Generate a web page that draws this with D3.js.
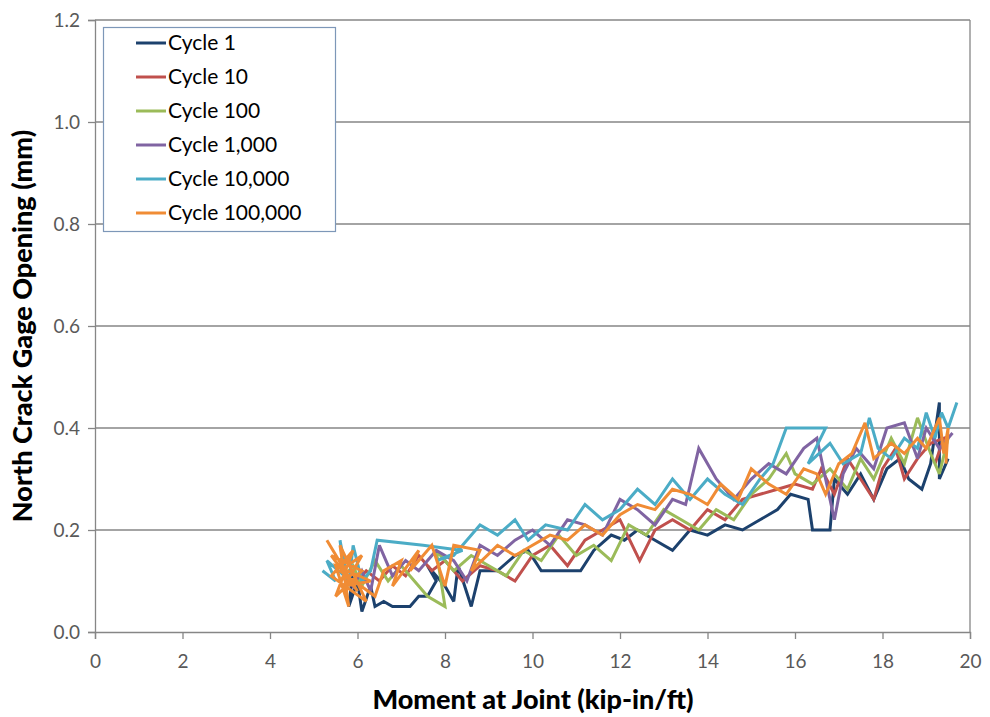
<!DOCTYPE html>
<html><head><meta charset="utf-8">
<script src="https://cdn.jsdelivr.net/npm/d3@7"></script>
<style>body{margin:0;background:#fff}svg{display:block}</style>
</head><body><svg id="c" width="990" height="717"></svg>
<script>
const seriesNames = ["Cycle 1","Cycle 10","Cycle 100","Cycle 1,000","Cycle 10,000","Cycle 100,000"];
const seriesColors = ["#1c416d","#c0504d","#9bbb59","#8064a2","#4bacc6","#f08c35"];
const xTicks = [0,2,4,6,8,10,12,14,16,18,20];
const yTicks = [0,0.2,0.4,0.6,0.8,1.0,1.2];

const cycle1 = [[5.7,0.08],[5.9,0.12],[5.8,0.05],[6.0,0.10],[6.1,0.04],[6.3,0.09],[6.4,0.05],[6.6,0.06],[6.8,0.05],[7.2,0.05],[7.4,0.07],[7.6,0.07],[7.8,0.10],[7.6,0.13],[8.0,0.09],[8.2,0.06],[8.3,0.13],[8.6,0.05],[8.8,0.12],[9.2,0.12],[9.6,0.15],[9.9,0.16],[10.2,0.12],[10.6,0.12],[11.1,0.12],[11.4,0.16],[11.8,0.19],[12.1,0.18],[12.4,0.20],[12.8,0.18],[13.2,0.16],[13.6,0.20],[14.0,0.19],[14.4,0.21],[14.8,0.20],[15.2,0.22],[15.6,0.24],[15.9,0.27],[16.3,0.26],[16.4,0.20],[16.8,0.20],[16.9,0.30],[17.2,0.27],[17.5,0.31],[17.8,0.26],[18.1,0.32],[18.4,0.34],[18.6,0.30],[18.9,0.28],[19.1,0.33],[19.3,0.45],[19.3,0.30],[19.5,0.34]];
const cycle10 = [[5.6,0.12],[5.9,0.09],[6.2,0.12],[6.5,0.10],[6.8,0.13],[7.1,0.11],[7.4,0.15],[7.7,0.12],[8.0,0.14],[8.4,0.10],[8.8,0.13],[9.2,0.12],[9.6,0.10],[10.0,0.15],[10.4,0.17],[10.8,0.13],[11.2,0.18],[11.6,0.20],[12.0,0.22],[12.45,0.14],[12.8,0.20],[13.2,0.22],[13.6,0.20],[14.0,0.24],[14.4,0.22],[14.8,0.26],[15.2,0.27],[15.6,0.28],[16.0,0.29],[16.4,0.28],[16.6,0.32],[16.9,0.27],[17.2,0.34],[17.5,0.30],[17.8,0.26],[18.0,0.32],[18.3,0.36],[18.5,0.30],[18.8,0.34],[19.1,0.37],[19.4,0.38],[19.2,0.33]];
const cycle100 = [[5.6,0.10],[5.9,0.13],[6.1,0.09],[6.4,0.14],[6.7,0.10],[7.0,0.13],[7.3,0.10],[7.6,0.07],[8.0,0.05],[7.8,0.16],[8.2,0.12],[8.6,0.15],[9.0,0.13],[9.4,0.11],[9.8,0.16],[10.2,0.14],[10.6,0.19],[11.0,0.15],[11.4,0.17],[11.8,0.14],[12.2,0.21],[12.6,0.19],[13.0,0.24],[13.4,0.22],[13.8,0.20],[14.2,0.24],[14.6,0.22],[15.0,0.27],[15.4,0.30],[15.8,0.35],[16.0,0.31],[16.4,0.29],[16.8,0.32],[17.2,0.28],[17.5,0.34],[17.8,0.30],[18.2,0.38],[18.5,0.33],[18.8,0.42],[19.1,0.35],[19.3,0.31],[19.5,0.38]];
const cycle1000 = [[5.6,0.13],[5.9,0.09],[6.1,0.12],[6.3,0.08],[6.5,0.17],[6.8,0.11],[7.1,0.14],[7.4,0.12],[7.8,0.16],[8.2,0.14],[8.5,0.10],[8.8,0.17],[9.2,0.15],[9.6,0.18],[10.0,0.20],[10.4,0.17],[10.8,0.22],[11.2,0.21],[11.6,0.19],[12.0,0.26],[12.4,0.24],[12.8,0.21],[13.2,0.26],[13.5,0.25],[13.8,0.36],[14.2,0.30],[14.6,0.26],[15.0,0.30],[15.4,0.33],[15.8,0.31],[16.2,0.36],[16.5,0.38],[16.8,0.26],[16.9,0.22],[17.1,0.31],[17.4,0.36],[17.8,0.32],[18.1,0.40],[18.5,0.41],[18.8,0.34],[19.0,0.40],[19.3,0.36],[19.6,0.39]];
const cycle10000 = [[5.2,0.12],[5.5,0.10],[5.3,0.14],[5.7,0.11],[5.6,0.18],[5.8,0.09],[5.9,0.17],[6.1,0.10],[6.3,0.12],[6.45,0.18],[7.5,0.17],[8.4,0.16],[7.8,0.14],[8.2,0.15],[8.8,0.21],[9.2,0.19],[9.6,0.22],[9.9,0.18],[10.3,0.21],[10.8,0.20],[11.2,0.25],[11.6,0.22],[12.0,0.24],[12.4,0.28],[12.8,0.25],[13.2,0.30],[13.6,0.26],[14.0,0.30],[14.4,0.27],[14.8,0.25],[15.2,0.30],[15.5,0.33],[15.8,0.40],[16.7,0.40],[16.3,0.33],[16.8,0.37],[17.1,0.33],[17.5,0.35],[17.7,0.42],[17.9,0.36],[18.2,0.34],[18.5,0.38],[18.8,0.36],[19.0,0.43],[19.2,0.38],[19.35,0.43],[19.5,0.40],[19.7,0.45]];
const cycle100000 = [[5.3,0.18],[6.0,0.08],[5.4,0.15],[6.1,0.12],[5.5,0.07],[5.9,0.16],[5.4,0.11],[6.2,0.06],[5.6,0.17],[5.8,0.05],[5.5,0.13],[6.3,0.10],[5.7,0.09],[6.1,0.15],[5.6,0.12],[6.4,0.07],[6.6,0.12],[7.0,0.14],[6.8,0.09],[7.4,0.16],[7.2,0.12],[7.7,0.17],[8.0,0.09],[8.2,0.17],[8.8,0.16],[8.6,0.12],[9.2,0.17],[9.6,0.15],[10.0,0.17],[10.4,0.19],[10.8,0.18],[11.2,0.21],[11.6,0.19],[12.0,0.23],[12.4,0.25],[12.8,0.24],[13.2,0.28],[13.6,0.27],[14.0,0.25],[14.3,0.29],[14.7,0.26],[15.0,0.32],[15.4,0.29],[15.8,0.27],[16.2,0.32],[16.5,0.31],[16.7,0.27],[17.0,0.33],[17.3,0.35],[17.6,0.41],[17.8,0.34],[18.2,0.37],[18.5,0.35],[18.8,0.38],[19.0,0.36],[19.3,0.42],[19.4,0.35],[19.5,0.40],[19.45,0.33]];
const allSeries = [cycle1, cycle10, cycle100, cycle1000, cycle10000, cycle100000];

const svg = d3.select("#c");
const L = 95, R = 970, T = 20, B = 632;
const x = d3.scaleLinear().domain([0,20]).range([L,R]);
const y = d3.scaleLinear().domain([0,1.2]).range([B,T]);
const font = "Lato, 'Noto Sans', sans-serif";

// gridlines
svg.append("g").selectAll("line").data(yTicks.filter(d=>d>0)).join("line")
  .attr("x1",L).attr("x2",R).attr("y1",d=>y(d)).attr("y2",d=>y(d))
  .attr("stroke","#868686").attr("stroke-width",1.3);
// right border
svg.append("line").attr("x1",R).attr("x2",R).attr("y1",T).attr("y2",B)
  .attr("stroke","#868686").attr("stroke-width",1.3);

// axes
const xAxis = d3.axisBottom(x).tickValues(xTicks).tickFormat(d3.format("d")).tickSize(7).tickPadding(16);
const gx = svg.append("g").attr("transform",`translate(0,${B})`).call(xAxis);
const yAxis = d3.axisLeft(y).tickValues(yTicks).tickFormat(d3.format(".1f")).tickSize(7).tickPadding(8);
const gy = svg.append("g").attr("transform",`translate(${L},0)`).call(yAxis);
[gx,gy].forEach(g=>{
  g.select(".domain").attr("stroke","#868686").attr("stroke-width",1.3);
  g.selectAll(".tick line").attr("stroke","#868686").attr("stroke-width",1.3);
  g.selectAll(".tick text").attr("fill","#595959").style("font-family",font).style("font-size","19px");
});

// series
const line = d3.line().x(d=>x(d[0])).y(d=>y(d[1]));
svg.append("g").selectAll("path").data(allSeries).join("path")
  .attr("d",line).attr("fill","none")
  .attr("stroke",(d,i)=>seriesColors[i]).attr("stroke-width",3)
  .attr("stroke-linejoin","miter").attr("stroke-miterlimit",3);

// axis titles
svg.append("text").attr("x",533).attr("y",709).attr("text-anchor","middle")
  .style("font-family",font).style("font-weight","900").style("font-size","27px")
  .text("Moment at Joint (kip-in/ft)");
svg.append("text").attr("transform",`translate(32,${(T+B)/2}) rotate(-90)`).attr("text-anchor","middle")
  .style("font-family",font).style("font-weight","900").style("font-size","27px")
  .text("North Crack Gage Opening (mm)");

// legend
const lg = svg.append("g");
lg.append("rect").attr("x",103.5).attr("y",27.5).attr("width",232).attr("height",204)
  .attr("fill","#fff").attr("stroke","#7d97b8").attr("stroke-width",1.2);
const items = lg.selectAll("g.it").data(seriesNames).join("g").attr("class","it")
  .attr("transform",(d,i)=>`translate(0,${43+i*34})`);
items.append("line").attr("x1",136).attr("x2",166).attr("y1",0).attr("y2",0)
  .attr("stroke",(d,i)=>seriesColors[i]).attr("stroke-width",3);
items.append("text").attr("x",168).attr("y",7).style("font-family",font).style("font-size","21px")
  .attr("fill","#000").text(d=>d);
</script></body></html>
